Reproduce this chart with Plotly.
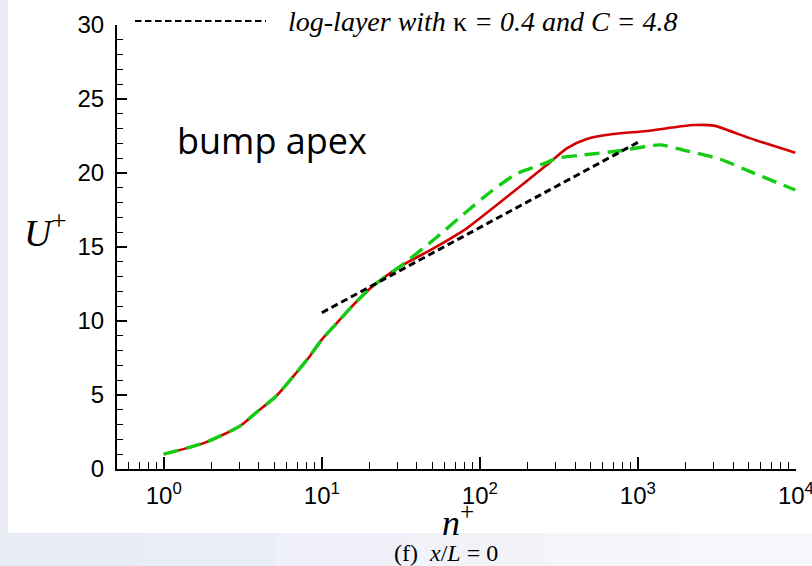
import plotly.graph_objects as go

# ---- data ----
n_wall = [1, 1.84, 3.03, 3.86, 5.17, 6.58, 8.2, 9.96, 12.4, 15.8, 20.2, 24.5, 31.2]
U_wall = [1.0, 1.80, 2.9, 3.83, 4.95, 6.24, 7.48, 8.72, 9.84, 11.08, 12.2, 12.9, 13.67]

n_red_outer = [50.8, 82.6, 100, 163, 265, 355, 475, 700, 1140, 2250, 3015, 5140, 9910]
U_red_outer = [14.9, 16.26, 16.94, 18.74, 20.54, 21.67, 22.3, 22.63, 22.84, 23.24, 23.2, 22.34, 21.37]

n_green_outer = [50.8, 82.6, 116, 171, 265, 305, 433, 775, 1373, 2030, 3320, 5140, 9910]
U_green_outer = [15.47, 17.4, 18.7, 19.95, 20.7, 21.0, 21.2, 21.5, 21.9, 21.5, 20.93, 20.09, 18.85]

n_red = n_wall + n_red_outer
U_red = U_wall + U_red_outer
n_green = n_wall + n_green_outer
U_green = U_wall + U_green_outer

n_log = [10, 1000]
U_log = [10.56, 22.07]

x_tickvals = [1, 10, 100, 1000, 10000]
x_ticktext = ["10<sup>0</sup>", "10<sup>1</sup>", "10<sup>2</sup>", "10<sup>3</sup>", "10<sup>4</sup>"]
x_minor = [m * 10 ** e for e in range(-1, 4) for m in range(2, 10) if m * 10 ** e > 0.5]

legend_text = "<i>log-layer with </i>κ<i> = 0.4 and C = 4.8</i>"

# ---- layout geometry (pixels) ----
WIDTH, HEIGHT = 812, 566
L, R, T, B = 117, 796, 25, 469
PW, PH = R - L, B - T


def px(x):
    return (x - L) / PW


def py(y):
    return (B - y) / PH


fig = go.Figure()
fig.add_trace(go.Scatter(x=n_red, y=U_red, mode="lines",
                         line=dict(color="#d20000", width=2.6, shape="spline", smoothing=0.7),
                         showlegend=False))
fig.add_trace(go.Scatter(x=n_green, y=U_green, mode="lines",
                         line=dict(color="#14cc14", width=3.4, dash="15px,8px", shape="spline", smoothing=0.6),
                         showlegend=False))
fig.add_trace(go.Scatter(x=n_log, y=U_log, mode="lines",
                         line=dict(color="black", width=3, dash="7px,4px"), showlegend=False))

shapes = []
# page background: lavender strips around a white card
shapes.append(dict(type="rect", xref="paper", yref="paper", x0=px(-2), x1=px(8), y0=py(570), y1=py(-2),
                   fillcolor="#e9ebf5", line_width=0, layer="below"))
band_cols = ["#e9ebf5", "#eceef7", "#eff0f8", "#f2f3f9", "#f4f5fa", "#f6f7fb"]
nb = len(band_cols)
for i, c in enumerate(band_cols):
    shapes.append(dict(type="rect", xref="paper", yref="paper",
                       x0=px(8 + i * (806 / nb)), x1=px(8 + (i + 1) * (806 / nb) + 1),
                       y0=py(570), y1=py(533), fillcolor=c, line_width=0, layer="below"))
# legend sample line
shapes.append(dict(type="line", xref="paper", yref="paper", x0=px(135), x1=px(266), y0=py(21), y1=py(21),
                   line=dict(color="black", width=2.2, dash="6.5px,3.5px")))

annotations = [
    dict(text=legend_text, xref="paper", yref="paper", x=px(286), y=py(21), xanchor="left", yanchor="middle",
         showarrow=False, font=dict(family="Liberation Serif", size=28, color="black")),
    dict(text="bump apex", xref="paper", yref="paper", x=px(175), y=py(140), xanchor="left", yanchor="middle",
         showarrow=False, font=dict(family="Open Sans", size=36, color="black")),
    dict(text="<i>U</i><sup>+</sup>", xref="paper", yref="paper", x=px(45), y=py(230), xanchor="center",
         yanchor="middle", showarrow=False, font=dict(family="Liberation Serif", size=38, color="black")),
    dict(text="<i>n</i><sup>+</sup>", xref="paper", yref="paper", x=px(458), y=py(520), xanchor="center",
         yanchor="middle", showarrow=False, font=dict(family="Liberation Serif", size=36, color="black")),
    dict(text="(f)  <i>x</i>/<i>L</i> = 0", xref="paper", yref="paper", x=px(446), y=py(553),
         xanchor="center", yanchor="middle", showarrow=False,
         font=dict(family="Liberation Serif", size=24, color="black")),
]

fig.update_layout(
    width=WIDTH, height=HEIGHT,
    margin=dict(l=L, r=WIDTH - R, t=T, b=HEIGHT - B, pad=0, autoexpand=False),
    paper_bgcolor="white", plot_bgcolor="white",
    shapes=shapes, annotations=annotations,
    font=dict(family="Liberation Sans", size=24, color="black"),
)
fig.update_xaxes(
    type="log", range=[-0.296, 4.0005], tickvals=x_tickvals, ticktext=x_ticktext,
    showline=True, linecolor="black", linewidth=2, showgrid=False, zeroline=False,
    ticks="inside", ticklen=12, tickwidth=2, tickcolor="black", ticklabelstandoff=4,
    ticklabeloverflow="allow", automargin=False,
    tickfont=dict(family="Liberation Sans", size=24, color="black"),
    minor=dict(tickvals=x_minor, ticks="inside", ticklen=7, tickwidth=1.3, tickcolor="black", showgrid=False),
)
fig.update_yaxes(
    range=[0, 30], dtick=5, tick0=0, automargin=False,
    showline=True, linecolor="black", linewidth=2, showgrid=False, zeroline=False,
    ticks="inside", ticklen=10, tickwidth=2, tickcolor="black", ticklabelstandoff=6,
    tickfont=dict(family="Liberation Sans", size=24, color="black"),
    minor=dict(dtick=1, ticks="inside", ticklen=6, tickwidth=1.3, tickcolor="black", showgrid=False),
)

fig.write_html("out.html", config={"displayModeBar": False},
               post_script="document.body.style.margin='0';document.body.style.overflow='hidden';")
